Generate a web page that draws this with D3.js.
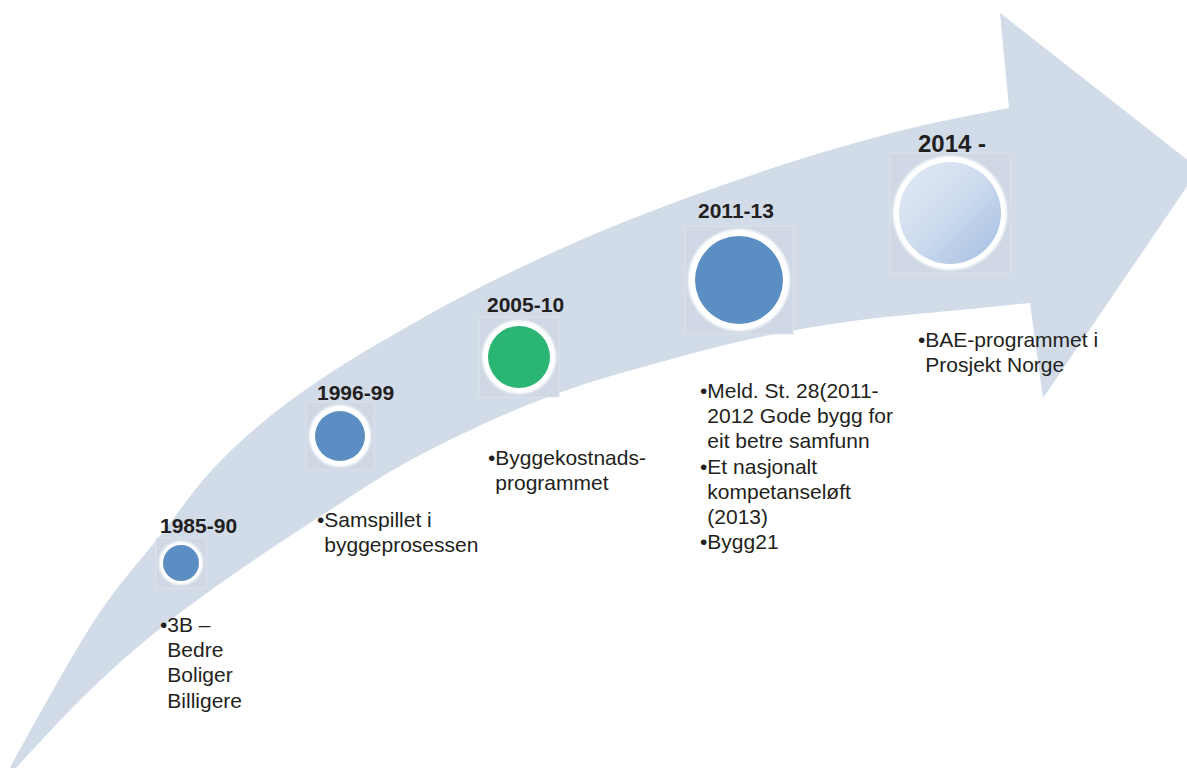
<!DOCTYPE html>
<html>
<head>
<meta charset="utf-8">
<script src="https://cdn.jsdelivr.net/npm/d3@7"></script>
<style>
  html, body { margin: 0; padding: 0; background: #fff; }
  svg { display: block; font-family: "Liberation Sans", Arial, sans-serif; }
</style>
</head>
<body>
<svg id="timeline" width="1187" height="768"></svg>
<script>
// periods and what happened in each
const periods = ['1985-90', '1996-99', '2005-10', '2011-13', '2014 -'];
const items = [
    [['3B –', 'Bedre', 'Boliger', 'Billigere']],
    [['Samspillet i', 'byggeprosessen']],
    [['Byggekostnads-', 'programmet']],
    [['Meld. St. 28(2011-', '2012 Gode bygg for', 'eit betre samfunn'],
     ['Et nasjonalt', 'kompetanseløft', '(2013)'],
     ['Bygg21']],
    [['BAE-programmet i', 'Prosjekt Norge']]
];

const svg = d3.select('#timeline');
const W = 1187, H = 768;

// arrow outline (screen coords)
const upperEdge = [[10, 768], [100, 612], [163, 532], [210, 472], [263, 422], [330, 373], [400, 331],
    [463, 296], [530, 263], [597, 233], [660, 208], [720, 186], [820, 153], [920, 126], [1009, 108]];
const head = [[1000, 13], [1199, 169], [1043, 398], [1030, 303]];
const lowerEdge = [[1030, 303], [960, 310], [860, 320], [760, 337], [650, 365], [570, 389], [490, 421],
    [400, 466], [330, 510], [260, 556], [200, 598], [140, 645], [80, 700], [16, 768]];

const edge = d3.line().curve(d3.curveCatmullRom.alpha(0.5));
const arrowPath = edge(upperEdge)
    + head.map(p => `L${p[0]},${p[1]}`).join('')
    + edge(lowerEdge).replace(/^M/, 'L') + 'Z';

const defs = svg.append('defs');
const grad = defs.append('linearGradient')
    .attr('id', 'lightBall')
    .attr('x1', '0%').attr('y1', '0%').attr('x2', '100%').attr('y2', '100%');
grad.append('stop').attr('offset', '0%').attr('stop-color', '#e2eaf5');
grad.append('stop').attr('offset', '45%').attr('stop-color', '#d0ddef');
grad.append('stop').attr('offset', '100%').attr('stop-color', '#a3bee2');

const soft = defs.append('filter').attr('id', 'soft')
    .attr('x', '-20%').attr('y', '-20%').attr('width', '140%').attr('height', '140%');
soft.append('feGaussianBlur').attr('stdDeviation', 0.8);

svg.append('path')
    .attr('d', arrowPath)
    .attr('fill', '#d2dbe8');

// node placement along the arrow
const cx = d3.scaleOrdinal().domain(periods).range([181, 340, 519, 739, 950]);
const cy = d3.scaleOrdinal().domain(periods).range([563, 436, 357, 280, 213]);
const rad = d3.scaleOrdinal().domain(periods).range([22, 31, 37, 51, 57]);
const ring = d3.scaleOrdinal().domain(periods).range([4, 6, 6, 7, 6]);
const ballFill = d3.scaleOrdinal().domain(periods)
    .range(['#5b8fc4', '#5b8fc4', '#2ab573', '#5b8fc4', 'url(#lightBall)']);
const labelX = d3.scaleOrdinal().domain(periods).range([160, 317, 487, 698, 918]);
const labelY = d3.scaleOrdinal().domain(periods).range([533, 400, 312, 218, 152]);
const labelSize = d3.scaleOrdinal().domain(periods).range([21, 21, 21, 21, 24]);
const textX = d3.scaleOrdinal().domain(periods).range([160, 317, 488, 700, 918]);
const textY = d3.scaleOrdinal().domain(periods).range([632, 527, 465, 398, 347]);

const node = svg.selectAll('g.node')
    .data(periods)
    .enter()
    .append('g')
    .attr('class', 'node');

node.append('rect')
    .attr('x', d => cx(d) - rad(d) - 3)
    .attr('y', d => cy(d) - rad(d) - 3)
    .attr('width', d => 2 * rad(d) + 6)
    .attr('height', d => 2 * rad(d) + 6)
    .attr('fill', '#cfd8e4')
    .attr('stroke', '#dde3ec')
    .attr('stroke-width', 1);

node.append('circle')
    .attr('cx', cx).attr('cy', cy)
    .attr('r', d => rad(d))
    .attr('fill', '#ffffff')
    .attr('filter', 'url(#soft)');

node.append('circle')
    .attr('cx', cx).attr('cy', cy)
    .attr('r', d => rad(d) - ring(d))
    .attr('fill', ballFill);

node.append('text')
    .attr('x', labelX)
    .attr('y', labelY)
    .attr('font-size', labelSize)
    .attr('font-weight', 'bold')
    .attr('fill', '#231f20')
    .text(d => d);

// bullet lists under each node
const lineH = 25.2;
periods.forEach((p, i) => {
    const t = svg.append('text')
        .attr('font-size', 21)
        .attr('fill', '#231f20');
    let row = 0;
    items[i].forEach(lines => {
        lines.forEach((ln, j) => {
            t.append('tspan')
                .attr('x', j === 0 ? textX(p) : textX(p) + 7.3)
                .attr('y', textY(p) + row * lineH)
                .text(j === 0 ? '•' + ln : ln);
            row++;
        });
    });
});
</script>
</body>
</html>
